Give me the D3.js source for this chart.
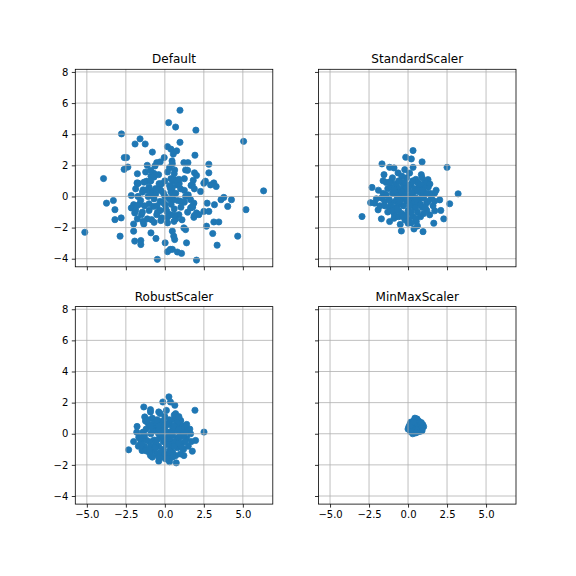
<!DOCTYPE html>
<html>
<head>
<meta charset="utf-8">
<script src="https://cdn.jsdelivr.net/npm/d3@7"></script>
<style>
  body { margin: 0; background: #fff; }
  svg { display: block; font-family: "DejaVu Sans", sans-serif; }
</style>
</head>
<body>
<svg id="chart" width="576" height="576"></svg>
<script>
// values
var titles = ["Default", "StandardScaler", "RobustScaler", "MinMaxScaler"];
var xTicks = [-5, -2.5, 0, 2.5, 5];
var yTicks = [-4, -2, 0, 2, 4, 6, 8];

var defaultPts = [
    [0.24,4.74],[-2.78,4.02],[-1.59,3.70],[-1.91,3.37],[-1.26,3.37],[-0.80,2.85],[0.17,3.2],[0.39,3.04],
    [-2.6,2.5],[-2.45,2.5],[-2.61,1.74],[-2.37,1.89],[-3.93,1.15],[-1.13,2.0],[-0.52,2.17],[-0.30,2.22],
    [-0.63,1.96],[-0.04,2.5],[0.30,1.85],[0.46,2.28],[-0.89,1.30],[-0.70,1.48],[-1.17,0.98],[-1.78,0.87],
    [-0.2,0.83],[0.52,0.98],
    [0.97,5.54],[0.69,4.46],[1.99,4.26],[5.05,3.54],[0.97,3.48],[0.76,2.93],[1.93,2.65],[0.54,2.72],
    [0.48,2.1],[1.22,2.17],[1.48,2.17],[2.82,2.07],[2.82,1.52],[0.63,1.70],[1.33,1.70],[1.90,1.52],
    [2.03,1.35],[1.82,1.04],[2.6,0.98],[3.14,0.87],[0.59,1.09],
    [-2.15,0.06],[-3.74,-0.43],[-3.30,-0.26],[-3.2,-0.85],[-3.2,-1.49],[-2.8,-1.38],[-5.13,-2.30],
    [-2.87,-2.55],[-2.0,-1.77],[-1.35,-1.77],[-2.0,-2.23],[-1.93,-2.87],[-1.54,-2.83],[-1.54,-3.09],
    [-0.89,-2.34],[-0.57,-2.70],[0.02,-2.98],[0.17,-3.55],[-0.48,-4.04],[0.35,-3.40],[-2.0,-0.53],
    [-1.61,-0.49],[-2.15,-0.74],[-1.93,-1.06],[-1.5,-1.17],[-1.72,0],[-1.39,0.43],[-1.07,0],[-0.85,0.32],
    [-0.3,0.74],[-0.09,0.21],[-0.74,-0.64],[-0.3,-0.32],[0.02,-0.53],[-0.52,-1.17],[-0.2,-1.38],
    [0.17,-1.7],[0.35,-1.17],[0.13,-0.96],[0.46,-0.1],[0.35,0.53],[-0.85,-1.49],[0.57,-2.55],[-1.7,0.85],
    [6.33,0.36],[5.2,-0.85],[4.67,-2.55],[3.35,-3.13],[2.03,-4.09],[3.07,-2.38],[2.67,-1.91],[3.14,-1.64],
    [3.46,-1.64],[4.27,-0.21],[4.03,-0.64],[3.78,-0.06],[3.6,-0.21],[3.18,-0.53],[2.71,-0.43],[2.5,-0.96],
    [2.82,-0.96],[3.29,0.64],[2.93,0.74],[2.5,0.85],[1.76,0.74],[2.29,0.32],[1.01,0.49],[0.48,0.32],
    [1.33,0],[1.65,-0.21],[1.86,-0.43],[1.65,-0.74],[2.03,-1.06],[2.18,-1.17],[1.86,-1.34],[0.9,-1.17],
    [0.59,-1.6],[1.22,-2.02],[1.33,-2.13],[0.48,-2.23],[0.63,-2.77],[1.39,-2.98],[0.48,-3.4],[0.8,-3.57],
    [1.07,-3.66],[1.76,-0.64],[0.54,-0.21],[0.8,0.74],
    [-1.76,1.46],[-1.23,1.57],[-0.9,1.68],[-0.69,1.25],[-1.33,0.92],[-1.76,0.82],[-1.87,0.49],[-1.01,0.6],
    [-0.37,0.82],[-0.26,0.39],[0.17,1.57],[0.39,1.14],[0.6,1.46],[0.92,0.82],[1.25,1.14],[1.46,1.68],
    [1.68,0.71],[1.89,0.49],[0.39,0.28],[0.82,-0.26],[0.28,-0.15],[-0.69,-0.15],[-1.01,-0.47],[-1.55,-0.26],
    [-1.76,-0.58],[-1.87,-0.9],[-1.44,-1.01],[-1.01,-0.9],[-0.47,-1.01],[0.06,-0.8],[0.6,-0.8],[1.03,-0.69],
    [1.46,-1.01],[1.89,-1.23],[0.17,-1.33],[-0.26,-1.55],[-0.69,-1.66],[0.71,-1.44],[1.25,-0.37],[1.78,-0.69],
    [0.49,0.6],[1.25,0.39],[-1.44,0.28],[-0.58,0.17],[-1.12,-1.44],[-1.76,-1.44],
    [-1.2,0.4],[-0.9,1.0],[-0.4,1.4],[0.0,1.0],[0.3,0.7],[0.7,0.2],[1.0,-0.3],[0.6,-1.2],[-0.1,-0.4],
    [-0.5,-0.6],[-1.3,-0.6],[-0.9,0.1],[0.0,0.0],[0.9,1.1],[1.5,0.1],[-0.3,-0.9],[0.4,-0.5],[-0.6,0.5],
    [1.1,-1.5],[-1.4,-1.6]
];

var standardPts = [
    [0.32,2.95],[-0.15,2.52],[0.21,2.41],[0.9,2.22],[-1.67,2.09],[-1.18,1.87],[-0.9,1.83],[2.5,1.87],
    [0.32,1.87],[-0.21,1.72],[-0.64,1.51],[-1.54,1.40],[-1.6,1.01],[-1.07,1.01],[0.85,1.40],[1.28,1.08],
    [-2.31,0.58],[3.21,0.17],[2.67,-0.47],[2.03,-0.22],[1.71,0.22],[-2.03,-0.15],[-2.14,-0.43],[-1.92,-0.86],
    [-2.95,-1.29],[-1.71,-1.44],[-1.18,-1.61],[-0.43,-2.22],[0.38,-2.09],[0.96,-2.26],[1.65,-1.72],
    [2.29,-1.44],[1.71,-0.92],[1.39,-1.18],[0,-1.72],[0.53,-1.61],[-0.75,-1.29],
    [-1.3,0.5],[-1.0,0.2],[-0.7,0.6],[-0.4,0.9],[-0.1,1.2],[0.2,0.8],[0.5,1.1],[0.7,0.6],[1.0,0.3],
    [1.3,0.6],[1.5,-0.1],[1.2,-0.4],[0.9,-0.7],[0.6,-1.0],[0.3,-1.3],[0.0,-0.9],[-0.3,-0.6],[-0.6,-0.9],
    [-0.9,-1.1],[-1.2,-0.7],[-1.5,-0.3],[-1.6,0.2],[-0.8,-0.3],[-0.5,0.1],[-0.2,0.3],[0.1,0.0],[0.4,0.3],
    [0.7,-0.2],[1.0,-0.1],[0.3,-0.4],[-0.1,-0.3],[-1.1,-0.4],[-1.3,-1.0],[0.6,0.9],[1.1,0.9],[-0.4,1.3],
    [0.1,1.5],[-1.0,1.2],[1.8,0.4],[1.6,-0.6],[0.8,-1.3],[-0.2,-1.5],[-0.9,-1.4],[-1.8,-0.6],[-1.9,0.4],
    [0.0,0.5],[-0.6,-1.3],[0.4,-0.7],[-0.7,0.3],[1.4,0.2],[1.2,-0.9],[-0.3,0.6],[0.9,1.2],[-1.4,0.9],
    [0.2,-1.7],[0.6,-1.9],[-0.5,-1.8],[2.1,-0.9],[-2.4,-0.4],
    [-1.1,0.6],[-0.8,0.8],[-0.5,0.4],[-0.2,0.9],[0.1,0.7],[0.4,0.5],[0.7,0.3],[1.0,0.6],[1.2,0.2],[0.9,0.0],
    [0.6,-0.4],[0.3,-0.1],[0.0,-0.3],[-0.3,-0.1],[-0.6,-0.5],[-0.9,-0.7],[-1.2,-0.2],[-1.4,0.1],[-1.0,-0.9],
    [-0.7,-0.8],[-0.4,-1.1],[-0.1,-1.2],[0.2,-1.0],[0.5,-0.7],[0.8,-0.5],[1.1,-0.7],[1.3,-0.3],[0.2,0.2],
    [-0.1,0.5],[-0.4,0.3],[-0.7,0.0],[0.5,-0.1],[0.8,0.8],[0.3,1.0],[-0.6,1.0],[-1.2,0.9],[1.4,0.8],
    [0.0,-1.5],[-0.3,-1.3],[0.5,-1.4],[1.0,-1.1],[-1.5,-0.6],[-0.9,0.4],[0.6,0.4],[-0.2,0.0],[0.1,-0.6],
    [-0.5,-0.3],[0.9,0.4],[1.7,-0.3],[-1.7,-0.1]
];

var robustPts = [
    [0.26,2.37],[-0.13,2.04],[0.36,2.04],[0.64,1.83],[1.93,1.51],[-1.35,1.72],[-0.92,1.55],[-1.29,1.08],
    [-1.24,0.82],[-1.78,0.47],[2.51,0.11],[1.97,-0.43],[1.76,-1.12],[1.22,-1.4],[0.73,-1.87],[-0.39,-1.76],
    [-0.92,-1.4],[-1.46,-1.08],[-2.32,-1.03],[-1.67,-0.22],[-1.57,-0.65],[1.01,0.86],[1.33,0.32],[1.65,0],
    [0.04,-1.61],[0.26,-1.68],[-0.92,1.4],[-0.39,1.4],[0.69,1.29],
    [-1.2,0.3],[-0.9,0.0],[-0.6,0.5],[-0.3,0.8],[0.0,1.1],[0.3,0.7],[0.6,0.9],[0.8,0.4],[1.1,0.1],
    [1.3,0.5],[1.4,-0.3],[1.1,-0.6],[0.8,-0.9],[0.5,-1.2],[0.2,-1.4],[-0.1,-1.0],[-0.4,-0.8],[-0.7,-1.1],
    [-1.0,-1.2],[-1.3,-0.8],[-1.5,-0.4],[-1.4,0.1],[-0.7,-0.4],[-0.4,0.0],[-0.1,0.2],[0.2,-0.2],[0.5,0.2],
    [0.8,-0.3],[1.0,-0.2],[0.3,-0.6],[-0.1,-0.5],[-1.0,-0.5],[-1.2,-1.1],[0.6,1.2],[1.0,0.8],[-0.3,1.3],
    [0.1,1.5],[-0.8,1.0],[1.6,0.3],[1.5,-0.8],[0.7,-1.4],[-0.2,-1.5],[-0.8,-1.5],[-1.7,-0.8],[-1.8,0.1],
    [0.0,0.4],[-0.5,-1.3],[0.4,-0.9],[-0.6,0.2],[1.3,0.1],[1.2,-1.0],[-0.2,0.6],[0.9,1.1],[-1.1,0.7],
    [0.3,-1.8],[-2.0,-0.5],
    [-1.0,0.5],[-0.7,0.7],[-0.4,0.3],[-0.1,0.8],[0.2,0.6],[0.5,0.4],[0.8,0.2],[1.1,0.5],[1.2,-0.1],[0.9,-0.2],
    [0.6,-0.5],[0.3,-0.3],[0.0,-0.4],[-0.3,-0.2],[-0.6,-0.6],[-0.9,-0.8],[-1.2,-0.4],[-1.3,-0.1],[-1.0,-1.0],
    [-0.6,-0.9],[-0.3,-1.2],[0.0,-1.3],[0.3,-1.1],[0.6,-0.8],[0.9,-0.6],[1.1,-0.9],[1.3,-0.5],[0.2,0.1],
    [-0.1,0.5],[-0.4,0.5],[-0.8,0.2],[0.5,-0.1],[0.8,0.7],[0.3,0.9],[-0.5,0.9],[-1.1,0.9],[1.4,0.6],
    [0.1,-1.6],[-0.4,-1.5],[0.5,-1.5],[1.0,-1.3],[-1.5,-0.7],[-0.9,0.5],[0.6,0.5],[-0.2,-0.1],[0.1,-0.7],
    [-0.5,-0.4],[0.9,0.3],[1.7,-0.5],[-1.6,-0.3]
];

var minmaxPts = [
    [0.05,0.45],[0.1,0.3],[0.12,0.6],[0.18,0.75],[0.2,0.2],[0.22,0.45],[0.25,0.55],[0.28,0.35],[0.3,0.65],
    [0.32,0.1],[0.35,0.5],[0.38,0.85],[0.4,0.3],[0.42,0.6],[0.45,0.45],[0.47,0.2],[0.5,0.7],[0.52,0.38],
    [0.55,0.55],[0.57,0.95],[0.6,0.25],[0.62,0.48],[0.65,0.65],[0.68,0.35],[0.7,0.8],[0.72,0.52],[0.75,0.15],
    [0.78,0.42],[0.8,0.6],[0.85,0.3],[0.9,0.5],[0.95,0.58],[1.0,0.45],[0.0,0.3],[0.15,0.5],[0.3,0.0],
    [0.48,0.05],[0.6,0.9],[0.44,1.0],[0.35,0.75],[0.85,0.72],[0.15,0.15],[0.58,0.1],[0.9,0.2]
];

var xDomain = [-5.74, 6.92],
    yDomain = [-4.52, 8.17];

var svg = d3.select("#chart");
svg.append("rect").attr("width", 576).attr("height", 576).attr("fill", "#fff");

var size = 197.5;
var panels = [
    { title: titles[0], pts: defaultPts, left: 75.3, top: 69.3, xLab: false, yLab: true },
    { title: titles[1], pts: standardPts, left: 318.5, top: 69.3, xLab: false, yLab: false },
    { title: titles[2], pts: robustPts, left: 75.3, top: 306.6, xLab: true, yLab: true },
    { title: titles[3], pts: minmaxPts, left: 318.5, top: 306.6, xLab: true, yLab: false }
];

var x = d3.scaleLinear().domain(xDomain).range([0, size]),
    y = d3.scaleLinear().domain(yDomain).range([size, 0]);

function fmt(d, digits) {
    return d3.format("." + digits + "f")(d).replace("-", "\u2212");
}

panels.forEach(function(p) {
    var g = svg.append("g")
        .attr("transform", "translate(" + p.left + "," + p.top + ")");

    g.selectAll(".dot")
        .data(p.pts)
        .enter().append("circle")
        .attr("class", "dot")
        .attr("cx", function(d) { return x(d[0]); })
        .attr("cy", function(d) { return y(d[1]); })
        .attr("r", 3.1)
        .attr("fill", "#1f77b4")
        .attr("stroke", "#1f77b4")
        .attr("stroke-width", 0.8);

    // grid sits above the scatter, as in matplotlib
    g.selectAll(".vgrid")
        .data(xTicks)
        .enter().append("line")
        .attr("x1", function(d) { return x(d); })
        .attr("x2", function(d) { return x(d); })
        .attr("y1", 0).attr("y2", size)
        .attr("stroke", "#b0b0b0").attr("stroke-width", 0.8);

    g.selectAll(".hgrid")
        .data(yTicks)
        .enter().append("line")
        .attr("y1", function(d) { return y(d); })
        .attr("y2", function(d) { return y(d); })
        .attr("x1", 0).attr("x2", size)
        .attr("stroke", "#b0b0b0").attr("stroke-width", 0.8);

    var xa = g.append("g")
        .attr("transform", "translate(0," + size + ")")
        .call(d3.axisBottom(x).tickValues(xTicks).tickSize(3.5).tickPadding(3.5)
            .tickFormat(function(d) { return p.xLab ? fmt(d, 1) : ""; }));

    var ya = g.append("g")
        .call(d3.axisLeft(y).tickValues(yTicks).tickSize(3.5).tickPadding(3.5)
            .tickFormat(function(d) { return p.yLab ? fmt(d, 0) : ""; }));

    [xa, ya].forEach(function(a) {
        a.select(".domain").remove();
        a.selectAll("line").attr("stroke", "#000").attr("stroke-width", 0.8);
        a.selectAll("text")
            .attr("fill", "#000")
            .style("font-family", "'DejaVu Sans', sans-serif")
            .style("font-size", "10px");
    });

    g.append("rect")
        .attr("width", size).attr("height", size)
        .attr("fill", "none")
        .attr("stroke", "#000").attr("stroke-width", 0.8);

    g.append("text")
        .attr("x", size / 2)
        .attr("y", -6)
        .attr("text-anchor", "middle")
        .style("font-size", "12px")
        .style("font-family", "'DejaVu Sans', sans-serif")
        .text(p.title);
});
</script>
</body>
</html>
